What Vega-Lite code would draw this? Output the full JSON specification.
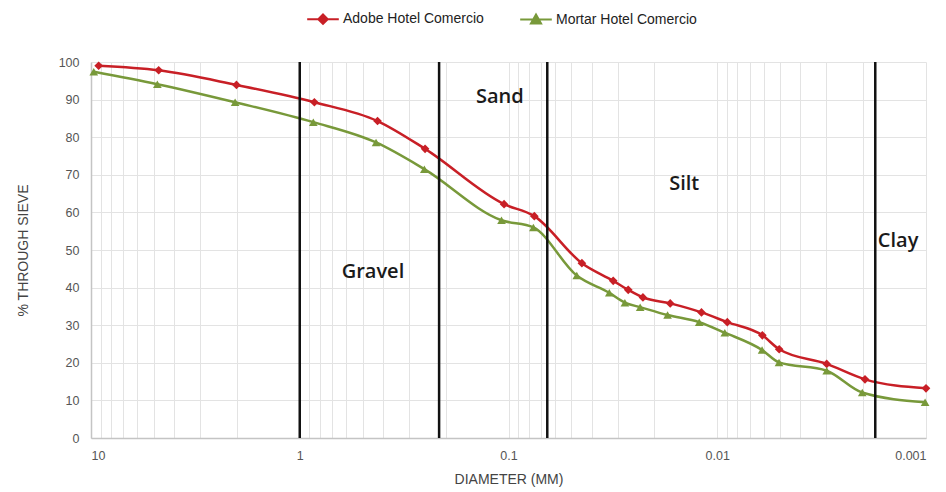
{
  "$schema": "https://vega.github.io/schema/vega-lite/v6.json",
  "width": 835,
  "height": 376,
  "autosize": "none",
  "padding": {"left": 91, "top": 62, "right": 20, "bottom": 54},
  "background": "white",
  "config": {
    "view": {"stroke": null},
    "font": "Liberation Sans",
    "axis": {
      "gridColor": "#e3e3e3",
      "gridWidth": 1,
      "domainColor": "#c4c4c4",
      "domainWidth": 1.5,
      "ticks": false,
      "labelColor": "#555555",
      "labelFont": "Liberation Sans",
      "labelFontSize": 12.5,
      "labelOverlap": false,
      "titleColor": "#444444",
      "titleFont": "Liberation Sans",
      "titleFontSize": 14,
      "titleFontWeight": "normal"
    }
  },
  "encoding": {
    "y": {
      "field": "pct",
      "type": "quantitative",
      "scale": {"domain": [0, 100], "nice": false},
      "axis": {
        "title": "% THROUGH SIEVE",
        "values": [0, 10, 20, 30, 40, 50, 60, 70, 80, 90, 100],
        "labelOverlap": false,
        "labelPadding": 12,
        "titlePadding": 28
      }
    }
  },
  "layer": [
    {
      "data": {
        "values": [
          {"series": "Adobe Hotel Comercio", "d": 9.19, "pct": 99.0},
          {"series": "Adobe Hotel Comercio", "d": 4.74, "pct": 97.8},
          {"series": "Adobe Hotel Comercio", "d": 2.01, "pct": 93.9},
          {"series": "Adobe Hotel Comercio", "d": 0.851, "pct": 89.3},
          {"series": "Adobe Hotel Comercio", "d": 0.424, "pct": 84.3},
          {"series": "Adobe Hotel Comercio", "d": 0.251, "pct": 76.9},
          {"series": "Adobe Hotel Comercio", "d": 0.105, "pct": 62.2},
          {"series": "Adobe Hotel Comercio", "d": 0.0752, "pct": 59.0},
          {"series": "Adobe Hotel Comercio", "d": 0.0445, "pct": 46.5},
          {"series": "Adobe Hotel Comercio", "d": 0.0315, "pct": 41.8},
          {"series": "Adobe Hotel Comercio", "d": 0.0267, "pct": 39.4},
          {"series": "Adobe Hotel Comercio", "d": 0.0227, "pct": 37.4},
          {"series": "Adobe Hotel Comercio", "d": 0.0168, "pct": 35.8},
          {"series": "Adobe Hotel Comercio", "d": 0.0119, "pct": 33.4},
          {"series": "Adobe Hotel Comercio", "d": 0.00895, "pct": 30.8},
          {"series": "Adobe Hotel Comercio", "d": 0.00608, "pct": 27.3},
          {"series": "Adobe Hotel Comercio", "d": 0.00505, "pct": 23.6},
          {"series": "Adobe Hotel Comercio", "d": 0.00299, "pct": 19.7},
          {"series": "Adobe Hotel Comercio", "d": 0.00196, "pct": 15.6},
          {"series": "Adobe Hotel Comercio", "d": 0.001, "pct": 13.2},
          {"series": "Mortar Hotel Comercio", "d": 9.7, "pct": 97.4},
          {"series": "Mortar Hotel Comercio", "d": 4.81, "pct": 94.1},
          {"series": "Mortar Hotel Comercio", "d": 2.04, "pct": 89.3},
          {"series": "Mortar Hotel Comercio", "d": 0.861, "pct": 84.0},
          {"series": "Mortar Hotel Comercio", "d": 0.431, "pct": 78.6},
          {"series": "Mortar Hotel Comercio", "d": 0.253, "pct": 71.5},
          {"series": "Mortar Hotel Comercio", "d": 0.108, "pct": 57.9},
          {"series": "Mortar Hotel Comercio", "d": 0.076, "pct": 56.0},
          {"series": "Mortar Hotel Comercio", "d": 0.0471, "pct": 43.2},
          {"series": "Mortar Hotel Comercio", "d": 0.0329, "pct": 38.6},
          {"series": "Mortar Hotel Comercio", "d": 0.0277, "pct": 36.0},
          {"series": "Mortar Hotel Comercio", "d": 0.0234, "pct": 34.8},
          {"series": "Mortar Hotel Comercio", "d": 0.0173, "pct": 32.7},
          {"series": "Mortar Hotel Comercio", "d": 0.0122, "pct": 30.8},
          {"series": "Mortar Hotel Comercio", "d": 0.0092, "pct": 28.0},
          {"series": "Mortar Hotel Comercio", "d": 0.0061, "pct": 23.4},
          {"series": "Mortar Hotel Comercio", "d": 0.00506, "pct": 20.1},
          {"series": "Mortar Hotel Comercio", "d": 0.00299, "pct": 17.9},
          {"series": "Mortar Hotel Comercio", "d": 0.00202, "pct": 12.1},
          {"series": "Mortar Hotel Comercio", "d": 0.00101, "pct": 9.5}
        ]
      },
      "layer": [
        {
          "mark": {"type": "line", "strokeWidth": 2.5, "interpolate": "monotone"},
          "encoding": {
            "x": {
              "field": "d",
              "type": "quantitative",
              "scale": {"type": "log", "domain": [0.001, 10], "reverse": true, "nice": false},
              "axis": {
                "title": "DIAMETER (MM)",
                "values": [10, 9, 8, 7, 6, 5, 4, 3, 2, 1, 0.9, 0.8, 0.7, 0.6, 0.5, 0.4, 0.3, 0.2, 0.1, 0.09, 0.08, 0.07, 0.06, 0.05, 0.04, 0.03, 0.02, 0.01, 0.009, 0.008, 0.007, 0.006, 0.005, 0.004, 0.003, 0.002, 0.001],
                "format": "~g",
                "labelExpr": "indexof(['10','1','0.1','0.01','0.001'], datum.label) >= 0 ? datum.label : ''",
                "labelPadding": 11,
                "titlePadding": 11
              }
            },
            "order": {"field": "d", "sort": "descending"},
            "color": {
              "field": "series",
              "type": "nominal",
              "scale": {
                "domain": ["Adobe Hotel Comercio", "Mortar Hotel Comercio"],
                "range": ["#c81f26", "#78993a"]
              },
              "legend": {
                "title": null,
                "orient": "none",
                "direction": "horizontal",
                "legendX": 215,
                "legendY": -60,
                "symbolSize": 1000,
                "symbolStrokeWidth": 2,
                "labelFont": "Liberation Sans",
                "labelFontSize": 14,
                "labelColor": "#222222",
                "labelOffset": 3,
                "columnPadding": 32,
                "encode": {
                  "symbols": {
                    "update": {
                      "shape": {"signal": "datum.value === 'Adobe Hotel Comercio' ? 'M-1,0L1,0M0,-0.3L0.3,0L0,0.3L-0.3,0Z' : 'M-1,0L1,0M0,-0.32L0.32,0.24L-0.32,0.24Z'"},
                      "size": {"value": 1000},
                      "fill": {"signal": "datum.value === 'Adobe Hotel Comercio' ? '#c81f26' : '#78993a'"},
                      "stroke": {"signal": "datum.value === 'Adobe Hotel Comercio' ? '#c81f26' : '#78993a'"},
                      "strokeWidth": {"value": 2},
                      "opacity": {"value": 1}
                    }
                  }
                }
              }
            }
          }
        },
        {
          "mark": {"type": "point", "filled": true, "size": 75, "opacity": 1},
          "encoding": {
            "x": {"field": "d", "type": "quantitative"},
            "color": {"field": "series", "type": "nominal"},
            "shape": {
              "field": "series",
              "type": "nominal",
              "scale": {"range": ["diamond", "triangle-up"]},
              "legend": null
            }
          }
        }
      ]
    },
    {
      "data": {"values": [{"b": 1}, {"b": 0.215}, {"b": 0.0652}, {"b": 0.00175}]},
      "mark": {"type": "rule", "color": "#111111", "strokeWidth": 2.5},
      "encoding": {"x": {"field": "b", "type": "quantitative"}, "y": null}
    },
    {
      "data": {
        "values": [
          {"label": "Gravel", "d": 0.446, "pct": 44.1},
          {"label": "Sand", "d": 0.11, "pct": 90.7},
          {"label": "Silt", "d": 0.0144, "pct": 67.6},
          {"label": "Clay", "d": 0.00136, "pct": 52.4}
        ]
      },
      "mark": {"type": "text", "font": "Open Sans", "fontSize": 20, "fontWeight": 600, "color": "#1a1a1a", "baseline": "middle", "align": "center"},
      "encoding": {
        "x": {"field": "d", "type": "quantitative"},
        "text": {"field": "label"}
      }
    }
  ]
}
